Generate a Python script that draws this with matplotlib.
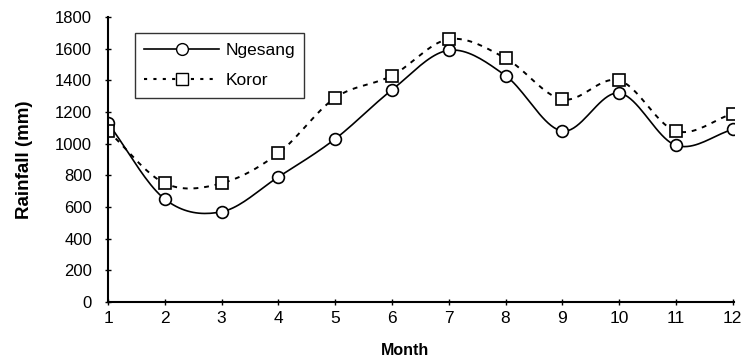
import numpy as np
import matplotlib
matplotlib.use("Agg")
import matplotlib.pyplot as plt

months = [1, 2, 3, 4, 5, 6, 7, 8, 9, 10, 11, 12]
ngesang = [1130, 650, 570, 790, 1030, 1340, 1590, 1430, 1080, 1320, 990, 1090]
koror = [1080, 750, 750, 940, 1290, 1430, 1660, 1540, 1280, 1400, 1080, 1190]
yticks = [0, 200, 400, 600, 800, 1000, 1200, 1400, 1600, 1800]


def smooth(x, y, n=20):
    # catmull-rom curve through the points
    x = np.asarray(x, float)
    y = np.asarray(y, float)
    px = np.concatenate([[2 * x[0] - x[1]], x, [2 * x[-1] - x[-2]]])
    py = np.concatenate([[2 * y[0] - y[1]], y, [2 * y[-1] - y[-2]]])
    xs, ys = [], []
    t = np.linspace(0, 1, n, endpoint=False)
    for i in range(1, len(px) - 2):
        for p, out in ((px, xs), (py, ys)):
            p0, p1, p2, p3 = p[i - 1], p[i], p[i + 1], p[i + 2]
            out.extend(0.5 * (2 * p1 + (-p0 + p2) * t
                              + (2 * p0 - 5 * p1 + 4 * p2 - p3) * t ** 2
                              + (-p0 + 3 * p1 - 3 * p2 + p3) * t ** 3))
    xs.append(x[-1])
    ys.append(y[-1])
    return xs, ys


plt.rcParams['font.family'] = ['Liberation Sans', 'DejaVu Sans']

fig = plt.figure(figsize=(7.45, 3.63), dpi=100)
ax = fig.add_axes([0.145, 0.168, 0.84, 0.785])

sx, sy = smooth(months, ngesang)
ax.plot(sx, sy, color='black', lw=1.2, ls='-')
sx, sy = smooth(months, koror)
ax.plot(sx, sy, color='black', lw=1.4, ls=(0, (2.5, 3)))

ax.plot(months, ngesang, ls='none', marker='o', ms=8.5, mfc='white', mec='black', mew=1.2)
ax.plot(months, koror, ls='none', marker='s', ms=8.5, mfc='white', mec='black', mew=1.2)

# legend proxies
ax.plot([], [], color='black', lw=1.2, marker='o', ms=8.5, mfc='white', mec='black', label='Ngesang')
ax.plot([], [], color='black', lw=1.5, ls=(0, (1.5, 3)), marker='s', ms=8.5, mfc='white', mec='black', label='Koror')
leg = ax.legend(loc='upper left', bbox_to_anchor=(0.043, 0.944), frameon=True, fancybox=False,
                edgecolor='black', fontsize=12.5, handlelength=4.3, handletextpad=0.35,
                borderpad=0.55, borderaxespad=0, labelspacing=0.9)
leg.get_frame().set_linewidth(1.0)

ax.set_xlim(1, 12.02)
ax.set_ylim(0, 1800)
ax.set_xticks(months)
ax.set_yticks(yticks)
ax.spines['top'].set_visible(False)
ax.spines['right'].set_visible(False)
ax.spines['left'].set_linewidth(1.5)
ax.spines['bottom'].set_linewidth(1.5)
ax.tick_params(axis='both', direction='inout', length=5, width=1)
ax.tick_params(axis='y', labelsize=12, pad=9)
ax.tick_params(axis='x', labelsize=12.5, pad=4)
ax.set_ylabel('Rainfall (mm)', fontsize=13.5, fontweight='bold', labelpad=16)
ax.set_xlabel('Month', fontsize=11.5, fontweight='bold')
ax.xaxis.set_label_coords(0.474, -0.145)

fig.savefig('out.png', dpi=100)
